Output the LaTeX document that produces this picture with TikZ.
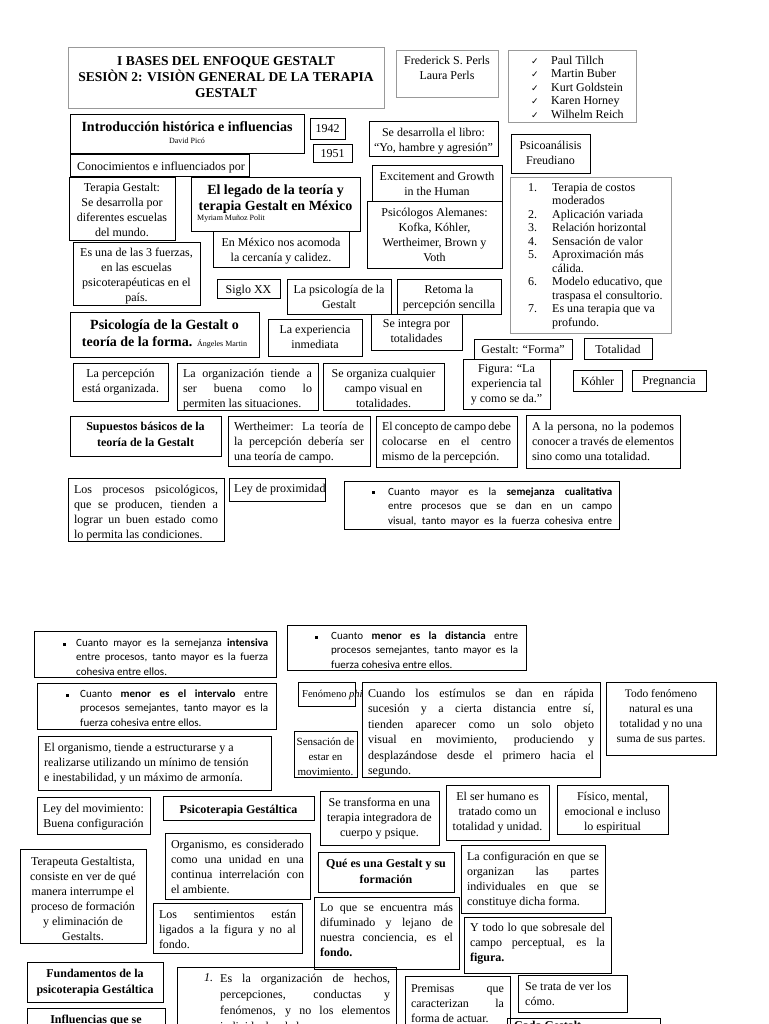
\documentclass[tikz,border=0pt]{standalone}
\usepackage{fontspec}
\setmainfont{Liberation Serif}
\newfontfamily\calibfont{Carlito}
\newfontfamily\symfont{DejaVu Sans}

\begin{document}
\begin{tikzpicture}[x=1pt,y=-1pt,
    caja/.style={draw=black,line width=0.8pt},
    cajagris/.style={draw=black!40,line width=0.8pt},
    texto/.style={inner sep=0pt,anchor=north,align=center,yshift=-1.5pt,font=\fontsize{12}{15}\selectfont},
    textoj/.style={texto,align=justify},
    textol/.style={texto,anchor=north west,align=left},
    titular/.style={texto,font=\fontsize{14}{16.5}\selectfont\bfseries},
    subtitular/.style={texto,font=\fontsize{12}{16}\selectfont\bfseries},
    autor/.style={inner sep=0pt,anchor=north west,yshift=-1.5pt,font=\fontsize{8}{9}\selectfont},
    vineta/.style={inner sep=0pt,anchor=north west,align=justify,yshift=-1.5pt,font=\calibfont\fontsize{11}{14.5}\selectfont},
    punto/.style={inner sep=0pt,fill=black,minimum size=3pt},
    lista/.style={textol,font=\fontsize{12}{13.5}\selectfont}]
    \useasboundingbox (0,0) rectangle (768,1024);
    \clip (0,0) rectangle (768,1024);

    % Encabezado
    \draw[cajagris] (68,47) rectangle (384,108);
    \node[texto,font=\fontsize{13.5}{16}\selectfont\bfseries] (titulo) at (226,55)
        {I BASES DEL ENFOQUE GESTALT\\SESIÒN 2: VISIÒN GENERAL DE LA TERAPIA\\GESTALT};
    \draw[cajagris] (396,50) rectangle (498,97);
    \node[texto] (perls) at (447,54) {Frederick S. Perls\\Laura Perls};
    \draw[cajagris] (508,50) rectangle (636,122);
    \node[lista] (nombres) at (531,54)
        {\makebox[20pt][l]{\symfont\fontsize{9}{9}\selectfont ✓}Paul Tillch\\
         \makebox[20pt][l]{\symfont\fontsize{9}{9}\selectfont ✓}Martin Buber\\
         \makebox[20pt][l]{\symfont\fontsize{9}{9}\selectfont ✓}Kurt Goldstein\\
         \makebox[20pt][l]{\symfont\fontsize{9}{9}\selectfont ✓}Karen Horney\\
         \makebox[20pt][l]{\symfont\fontsize{9}{9}\selectfont ✓}Wilhelm Reich};

    % Introduccion historica
    \draw[caja] (70,114) rectangle (304,153);
    \node[titular] (intro) at (187,120) {Introducción histórica e influencias};
    \node[autor,anchor=north] (pico) at (187,136) {David Picó};
    \draw[caja] (310,118) rectangle (345,139);
    \node[texto] (anio1) at (327.5,123) {1942};
    \draw[caja] (313,144) rectangle (352,162);
    \node[texto] (anio2) at (332.5,148) {1951};
    \draw[caja] (369,121) rectangle (498,156);
    \node[texto] (libro) at (433.5,126) {Se desarrolla el libro:\\“Yo, hambre y agresión"};
    \draw[caja] (511,134) rectangle (590,173);
    \node[texto] (freud) at (550.5,139) {Psicoanálisis\\Freudiano};
    \draw[caja] (70,154) rectangle (249,176);
    \node[textol] (conoc) at (77,160) {Conocimientos e influenciados por};
    \draw[caja] (372,165) rectangle (502,201);
    \node[texto] (excite) at (437,170) {Excitement and Growth\\in the Human};
    \draw[caja] (367,201) rectangle (502,268);
    \node[texto] (alemanes) at (434.5,206) {Psicólogos Alemanes:\\Kofka, Kóhler,\\Wertheimer, Brown y\\Voth};
    \draw[cajagris] (510,177) rectangle (671,333);
    \node[lista] (ventajas) at (524,181)
        {\makebox[13pt][r]{1.}\hspace{15pt}Terapia de costos\\
         \hspace{28pt}moderados\\
         \makebox[13pt][r]{2.}\hspace{15pt}Aplicación variada\\
         \makebox[13pt][r]{3.}\hspace{15pt}Relación horizontal\\
         \makebox[13pt][r]{4.}\hspace{15pt}Sensación de valor\\
         \makebox[13pt][r]{5.}\hspace{15pt}Aproximación más\\
         \hspace{28pt}cálida.\\
         \makebox[13pt][r]{6.}\hspace{15pt}Modelo educativo, que\\
         \hspace{28pt}traspasa el consultorio.\\
         \makebox[13pt][r]{7.}\hspace{15pt}Es una terapia que va\\
         \hspace{28pt}profundo.};

    % Legado en Mexico
    \draw[caja] (69,177) rectangle (175,240);
    \node[texto] (escuelas) at (122,181) {Terapia Gestalt:\\Se desarrolla por\\diferentes escuelas\\del mundo.};
    \draw[caja] (191,177) rectangle (360,231);
    \node[titular] (legado) at (275.5,183) {El legado de la teoría y\\terapia Gestalt en México};
    \node[autor] (munoz) at (197,213) {Myriam Muñoz Polit};
    \draw[caja] (213,231) rectangle (349,267);
    \node[texto] (calidez) at (281,236) {En México nos acomoda\\la cercanía y calidez.};
    \draw[caja] (73,242) rectangle (200,305);
    \node[texto] (fuerzas) at (136.5,246) {Es una de las 3 fuerzas,\\en las escuelas\\psicoterapéuticas en el\\país.};
    \draw[caja] (217,279) rectangle (280,298);
    \node[texto] (siglo) at (248.5,283) {Siglo XX};
    \draw[caja] (287,279) rectangle (391,314);
    \node[texto] (psico) at (339,283) {La psicología de la\\Gestalt};
    \draw[caja] (397,279) rectangle (501,314);
    \node[texto] (retoma) at (449,283) {Retoma la\\percepción sencilla};

    % Psicologia de la forma
    \draw[caja] (70,312) rectangle (259,357);
    \node[titular,font=\fontsize{14}{17}\selectfont\bfseries] (forma) at (164.5,318)
        {Psicología de la Gestalt o\\teoría de la forma. {\fontsize{8}{9}\selectfont\mdseries Ángeles Martin}};
    \draw[caja] (268,319) rectangle (362,356);
    \node[texto] (inmediata) at (315,324) {La experiencia\\inmediata};
    \draw[caja] (371,314) rectangle (462,350);
    \node[texto] (integra) at (416.5,318) {Se integra por\\totalidades};
    \draw[caja] (474,339) rectangle (572,359);
    \node[texto] (gforma) at (523,343) {Gestalt: “Forma”};
    \draw[caja] (584,338) rectangle (652,359);
    \node[texto] (totalidad) at (618,343) {Totalidad};
    \draw[caja] (73,363) rectangle (168,401);
    \node[texto] (organizada) at (120.5,367) {La percepción\\está organizada.};
    \draw[caja] (177,363) rectangle (318,410);
    \node[textoj,text width=129pt] (buena) at (247.5,367)
        {La organización tiende a\linebreak ser buena como lo\linebreak permiten las situaciones.};
    \draw[caja] (323,363) rectangle (444,410);
    \node[texto] (campo) at (383.5,367) {Se organiza cualquier\\campo visual en\\totalidades.};
    \draw[caja] (463,359) rectangle (550,409);
    \node[texto] (figura) at (506.5,363) {Figura: “La\\experiencia tal\\y como se da.”};
    \draw[caja] (573,370) rectangle (622,391);
    \node[texto] (kohler) at (597.5,375) {Kóhler};
    \draw[caja] (632,370) rectangle (706,391);
    \node[texto] (pregnancia) at (669,375) {Pregnancia};

    % Supuestos basicos
    \draw[caja] (70,416) rectangle (221,456);
    \node[subtitular] (supuestos) at (145.5,420) {Supuestos básicos de la\\teoría de la Gestalt};
    \draw[caja] (228,416) rectangle (370,466);
    \node[textoj,text width=130pt] (wert) at (299,420)
        {Wertheimer: La teoría de\linebreak la percepción debería ser\linebreak una teoría de campo.};
    \draw[caja] (376,416) rectangle (517,467);
    \node[textoj,text width=129pt] (concepto) at (446.5,420)
        {El concepto de campo debe\linebreak colocarse en el centro\linebreak mismo de la percepción.};
    \draw[caja] (526,415) rectangle (680,468);
    \node[textoj,text width=142pt] (persona) at (603,420)
        {A la persona, no la podemos\linebreak conocer a través de elementos\linebreak sino como una totalidad.};
    \draw[caja] (68,478) rectangle (224,541);
    \node[textoj,text width=144pt] (procesos) at (146,483)
        {Los procesos psicológicos,\linebreak que se producen, tienden a\linebreak lograr un buen estado como\linebreak lo permita las condiciones.};
    \draw[caja] (229,478) rectangle (325,501);
    \node[textol] (proximidad) at (234,482) {Ley de proximidad};
    \draw[caja] (344,481) rectangle (619,529);
    \node[punto] (p1) at (373,492) {};
    \node[vineta,text width=224pt] (cualitativa) at (388,486)
        {Cuanto mayor es la \textbf{semejanza cualitativa}\linebreak entre procesos que se dan en un campo\linebreak visual, tanto mayor es la fuerza cohesiva entre\linebreak\mbox{}};

    % Segunda hoja: leyes
    \draw[caja] (34,631) rectangle (276,677);
    \node[punto] (p2) at (64,644) {};
    \node[vineta,text width=192pt] (intensiva) at (76,637)
        {Cuanto mayor es la semejanza \textbf{intensiva}\linebreak entre procesos, tanto mayor es la fuerza\linebreak cohesiva entre ellos.};
    \draw[caja] (287,625) rectangle (526,670);
    \node[punto] (p3) at (316,637) {};
    \node[vineta,text width=187pt] (distancia) at (331,630)
        {Cuanto \textbf{menor es la distancia} entre\linebreak procesos semejantes, tanto mayor es la\linebreak fuerza cohesiva entre ellos.};
    \draw[caja] (37,683) rectangle (276,729);
    \node[punto] (p4) at (67,695) {};
    \node[vineta,text width=188pt] (intervalo) at (80,688)
        {Cuanto \textbf{menor es el intervalo} entre\linebreak procesos semejantes, tanto mayor es la\linebreak fuerza cohesiva entre ellos.};
    \draw[caja] (298,682) rectangle (355,706);
    \node[textol,font=\fontsize{10.5}{12}\selectfont] (phi) at (302,688) {Fenómeno \textit{phi}};
    \draw[caja] (362,682) rectangle (600,777);
    \node[textoj,text width=226pt,font=\fontsize{12}{15.5}\selectfont] (estimulos) at (481,687)
        {Cuando los estímulos se dan en rápida\linebreak sucesión y a cierta distancia entre sí,\linebreak
         tienden aparecer como un solo objeto\linebreak visual en movimiento, produciendo y\linebreak
         desplazándose desde el primero hacia el\linebreak segundo.};
    \draw[caja] (606,682) rectangle (716,755);
    \node[texto,font=\fontsize{11.5}{15}\selectfont] (natural) at (661,688) {Todo fenómeno\\natural es una\\totalidad y no una\\suma de sus partes.};
    \draw[caja] (38,736) rectangle (271,790);
    \node[textol] (armonia) at (44,741)
        {El organismo, tiende a estructurarse y a\\realizarse utilizando un mínimo de tensión\\e inestabilidad, y un máximo de armonía.};
    \draw[caja] (294,731) rectangle (357,777);
    \node[texto,font=\fontsize{11}{15}\selectfont] (sensacion) at (325.5,736) {Sensación de\\estar en\\movimiento.};

    % Psicoterapia Gestaltica
    \draw[caja] (37,797) rectangle (150,834);
    \node[texto] (movimiento) at (93.5,802) {Ley del movimiento:\\Buena configuración};
    \draw[caja] (163,796) rectangle (314,820);
    \node[subtitular] (psicoterapia) at (238.5,803) {Psicoterapia Gestáltica};
    \draw[caja] (320,791) rectangle (439,845);
    \node[texto] (integradora) at (379.5,796) {Se transforma en una\\terapia integradora de\\cuerpo y psique.};
    \draw[caja] (446,785) rectangle (549,840);
    \node[texto] (humano) at (497.5,790) {El ser humano es\\tratado como un\\totalidad y unidad.};
    \draw[caja] (557,785) rectangle (668,834);
    \node[texto] (fisico) at (612.5,790) {Físico, mental,\\emocional e incluso\\lo espiritual};
    \draw[caja] (20,849) rectangle (146,943);
    \node[texto] (terapeuta) at (83,855)
        {Terapeuta Gestaltista,\\consiste en ver de qué\\manera interrumpe el\\proceso de formación\\y eliminación de\\Gestalts.};
    \draw[caja] (165,833) rectangle (310,899);
    \node[textoj,text width=133pt] (unidad) at (237.5,838)
        {Organismo, es considerado\linebreak como una unidad en una\linebreak continua interrelación con\linebreak el ambiente.};
    \draw[caja] (318,852) rectangle (454,892);
    \node[subtitular] (quees) at (386,857) {Qué es una Gestalt y su\\formación};
    \draw[caja] (461,845) rectangle (605,913);
    \node[textoj,text width=132pt] (config) at (533,850)
        {La configuración en que se\linebreak organizan las partes\linebreak individuales en que se\linebreak constituye dicha forma.};
    \draw[caja] (153,903) rectangle (302,953);
    \node[textoj,text width=137pt] (sentimientos) at (227.5,908)
        {Los sentimientos están\linebreak ligados a la figura y no al\linebreak fondo.};
    \draw[caja] (314,897) rectangle (459,969);
    \node[textoj,text width=133pt] (fondo) at (386.5,901)
        {Lo que se encuentra más\linebreak difuminado y lejano de\linebreak nuestra conciencia, es el\linebreak \textbf{fondo.}};
    \draw[caja] (464,917) rectangle (611,973);
    \node[textoj,text width=135pt] (sobresale) at (537.5,921)
        {Y todo lo que sobresale del\linebreak campo perceptual, es la\linebreak \textbf{figura.}};

    % Fundamentos
    \draw[caja] (27,962) rectangle (163,1002);
    \node[subtitular] (fundamentos) at (95,967) {Fundamentos de la\\psicoterapia Gestáltica};
    \draw[caja] (27,1008) rectangle (165,1040);
    \node[subtitular] (influencias) at (96,1013) {Influencias que se};
    \draw[caja] (177,967) rectangle (396,1050);
    \node[textol] (num1) at (204,972) {\textit{1.}};
    \node[textoj,anchor=north west,text width=170pt,font=\fontsize{12}{16}\selectfont] (hechos) at (220,972)
        {Es la organización de hechos,\linebreak percepciones, conductas y\linebreak fenómenos, y no los elementos\linebreak individuales de los que se};
    \draw[caja] (405,976) rectangle (510,1040);
    \node[textoj,text width=93pt] (premisas) at (457.5,983)
        {Premisas que\linebreak caracterizan la\linebreak forma de actuar.};
    \draw[caja] (518,975) rectangle (627,1012);
    \node[textol] (como) at (525,980) {Se trata de ver los\\cómo.};
    \draw[caja] (507,1018) rectangle (660,1050);
    \node[textol,font=\fontsize{12}{15}\selectfont\bfseries] (cada) at (514,1019) {Cada Gestalt};
\end{tikzpicture}
\end{document}
